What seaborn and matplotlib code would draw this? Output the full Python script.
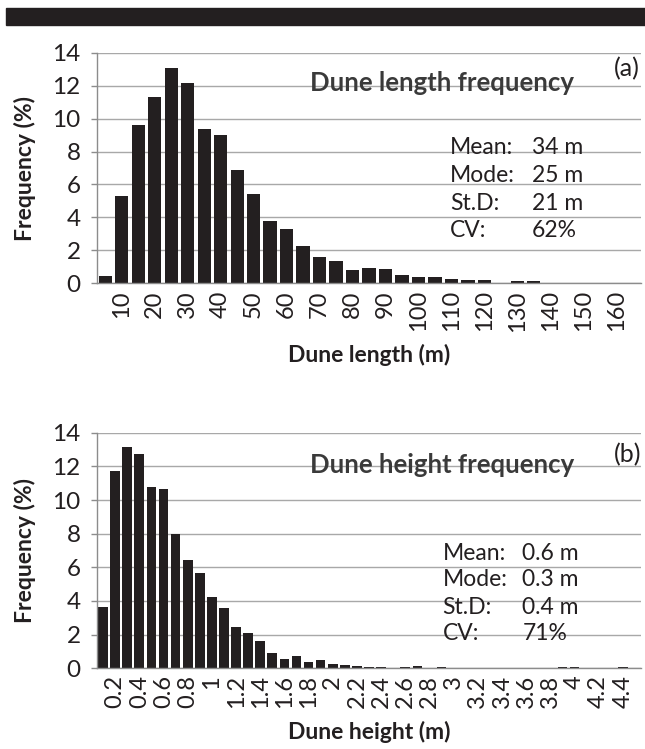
import matplotlib
matplotlib.use("Agg")
import matplotlib.pyplot as plt
import seaborn as sns
import pandas as pd
from matplotlib.patches import Rectangle

# ---------------- data ----------------
length_bins = ["5", "10", "15", "20", "25", "30", "35", "40", "45", "50", "55",
               "60", "65", "70", "75", "80", "85", "90", "95", "100", "105",
               "110", "115", "120", "125", "130", "135", "140", "145", "150",
               "155", "160", "165"]
length_freq = [0.45, 5.30, 9.63, 11.33, 13.09, 12.16, 9.35, 8.98, 6.88, 5.40,
               3.78, 3.32, 2.27, 1.60, 1.38, 0.81, 0.93, 0.87, 0.51, 0.38,
               0.38, 0.25, 0.17, 0.18, 0.0, 0.14, 0.14, 0.03, 0.0, 0.0,
               0.03, 0.03, 0.0]
length_ticklabels = ["10", "20", "30", "40", "50", "60", "70", "80", "90",
                     "100", "110", "120", "130", "140", "150", "160"]

height_bins = ["0.1", "0.2", "0.3", "0.4", "0.5", "0.6", "0.7", "0.8", "0.9",
               "1.0", "1.1", "1.2", "1.3", "1.4", "1.5", "1.6", "1.7", "1.8",
               "1.9", "2.0", "2.1", "2.2", "2.3", "2.4", "2.5", "2.6", "2.7",
               "2.8", "2.9", "3.0", "3.1", "3.2", "3.3", "3.4", "3.5", "3.6",
               "3.7", "3.8", "3.9", "4.0", "4.1", "4.2", "4.3", "4.4", "4.5"]
height_freq = [3.62, 11.70, 13.15, 12.75, 10.79, 10.65, 7.98, 6.44, 5.64, 4.22,
               3.60, 2.44, 2.08, 1.64, 0.91, 0.55, 0.73, 0.38, 0.50, 0.24,
               0.17, 0.12, 0.10, 0.10, 0.0, 0.06, 0.12, 0.0, 0.06, 0.0,
               0.0, 0.0, 0.0, 0.0, 0.0, 0.0, 0.0, 0.0, 0.06, 0.06,
               0.0, 0.0, 0.0, 0.06, 0.0]
height_ticklabels = ["0.2", "0.4", "0.6", "0.8", "1", "1.2", "1.4", "1.6", "1.8",
                     "2", "2.2", "2.4", "2.6", "2.8", "3", "3.2", "3.4", "3.6",
                     "3.8", "4", "4.2", "4.4"]

y_ticks = [0, 2, 4, 6, 8, 10, 12, 14]

length_stats_names = ["Mean:", "Mode:", "St.D:", "CV:"]
length_stats_values = ["34 m", "25 m", "21 m", "62%"]
height_stats_names = ["Mean:", "Mode:", "St.D:", "CV:"]
height_stats_values = ["0.6 m", "0.3 m", "0.4 m", "71%"]

# ---------------- style ----------------
sns.set_theme(style="white")
plt.rcParams["font.family"] = ["Lato", "DejaVu Sans"]

BAR = "#231f20"
GRID = "#a8a8a8"
SPINE = "#8c8c8c"
TXT = "#231f20"

W, H = 645, 749
fig = plt.figure(figsize=(W / 100, H / 100), dpi=100)
fig.patches.append(Rectangle((6 / W, 1 - 25 / H), 1, 16.7 / H,
                             transform=fig.transFigure, color="#231f20",
                             zorder=5))

ax1 = fig.add_axes([97 / W, 1 - 283.3 / H, 544 / W, 230.6 / H])
ax2 = fig.add_axes([97 / W, 1 - 668.3 / H, 544 / W, 235.6 / H])


def draw(ax, bins, freq, ticklabels, xlabel, title, tag, names, values,
         title_y, tag_y, stat_x0, stat_x1, stat_ys, xlabel_y):
    df = pd.DataFrame({"bin": bins, "freq": freq})
    sns.barplot(data=df, x="bin", y="freq", color=BAR, saturation=1,
                width=0.8, ax=ax, linewidth=0, order=bins)
    ax.set_ylim(0, 14)
    ax.set_xlim(-0.5, len(bins) - 0.5)
    ax.set_yticks(y_ticks)
    ax.set_yticklabels([str(t) for t in y_ticks])
    pos = [i for i, b in enumerate(bins) if i % 2 == 1]
    ax.set_xticks(pos)
    ax.set_xticklabels(ticklabels, rotation=90)
    ax.yaxis.grid(True, color=GRID, lw=1.0)
    ax.xaxis.grid(False)
    ax.set_axisbelow(True)
    for s in ["top", "right"]:
        ax.spines[s].set_visible(False)
    for s in ["left", "bottom"]:
        ax.spines[s].set_color(SPINE)
        ax.spines[s].set_linewidth(1.0)
    ax.tick_params(axis="y", length=4.3, width=1, color=SPINE, pad=7.5,
                   labelsize=17.5, labelcolor=TXT, left=True)
    ax.tick_params(axis="x", length=0, pad=5, labelsize=17, labelcolor=TXT)
    ax.set_ylabel("Frequency (%)", fontsize=16.5, fontweight="bold", color=TXT)
    ax.yaxis.set_label_coords(-0.112, 0.5)
    ax.set_xlabel(xlabel, fontsize=16.5, fontweight="bold", color=TXT)
    ax.xaxis.set_label_coords(0.5, xlabel_y)
    ax.text(0.877, title_y, title, transform=ax.transAxes, ha="right",
            va="center", fontsize=18.5, fontweight="bold", color="#3a3a3a")
    ax.text(0.950, tag_y, tag, transform=ax.transAxes, ha="left",
            va="center", fontsize=18, color=TXT)
    for n, v, y in zip(names, values, stat_ys):
        ax.text(stat_x0, y, n, transform=ax.transAxes, ha="left",
                va="center", fontsize=16.5, color=TXT)
        ax.text(stat_x1, y, v, transform=ax.transAxes, ha="left",
                va="center", fontsize=16.5, color=TXT)


draw(ax1, length_bins, length_freq, length_ticklabels, "Dune length (m)",
     "Dune length frequency", "(a)", length_stats_names, length_stats_values,
     0.867, 0.929, 0.649, 0.799, [0.589, 0.467, 0.344, 0.227], -0.262)
draw(ax2, height_bins, height_freq, height_ticklabels, "Dune height (m)",
     "Dune height frequency", "(b)", height_stats_names, height_stats_values,
     0.863, 0.905, 0.635, 0.782, [0.489, 0.375, 0.260, 0.146], -0.222)

fig.savefig("out.png", dpi=100)
